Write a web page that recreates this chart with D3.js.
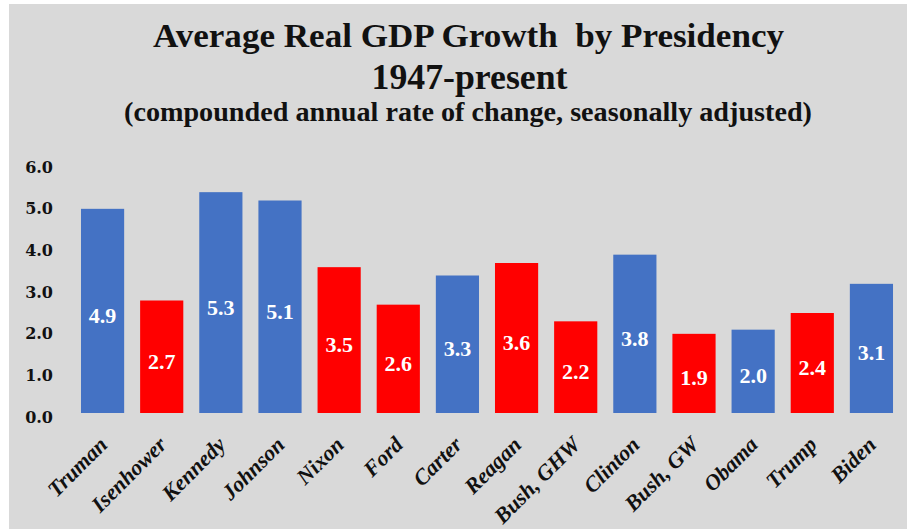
<!DOCTYPE html>
<html>
<head>
<meta charset="utf-8">
<script src="https://cdn.jsdelivr.net/npm/d3@7"></script>
<style>
  html, body { margin: 0; padding: 0; background: #ffffff; }
  svg { display: block; }
</style>
</head>
<body>
<svg id="chart" width="907" height="532"></svg>
<script>
const presidents = ["Truman","Isenhower","Kennedy","Johnson","Nixon","Ford","Carter","Reagan","Bush, GHW","Clinton","Bush, GW","Obama","Trump","Biden"];
const growth = [4.9, 2.7, 5.3, 5.1, 3.5, 2.6, 3.3, 3.6, 2.2, 3.8, 1.9, 2.0, 2.4, 3.1];
const party = ["D","R","D","D","R","R","D","R","R","D","R","D","R","D"];
const yTicks = [0, 1, 2, 3, 4, 5, 6];
const titleLines = ["Average Real GDP Growth  by Presidency", "1947-present", "(compounded annual rate of change, seasonally adjusted)"];

const partyColor = { D: "#4472C4", R: "#FF0000" };
const svg = d3.select("#chart");

svg.append("rect").attr("x", 9).attr("y", 4).attr("width", 898).attr("height", 525).attr("fill", "#d9d9d9");

// Titles
const titleSpecs = [
  { y: 47, size: 34, len: 631, cx: 468.5 },
  { y: 89, size: 36, len: 196, cx: 469.5 },
  { y: 121, size: 28, len: 688, cx: 468 }
];
titleLines.forEach((t, i) => {
  const s = titleSpecs[i];
  svg.append("text")
    .attr("x", s.cx).attr("y", s.y)
    .attr("text-anchor", "middle")
    .attr("font-family", "'Liberation Serif', 'Times New Roman', serif")
    .attr("font-weight", "bold")
    .attr("font-size", s.size)
    .attr("fill", "#111")
    .attr("textLength", s.len)
    .attr("lengthAdjust", "spacingAndGlyphs")
    .style("white-space", "pre")
    .text(t);
});

const x = d3.scaleBand().domain(presidents).range([73, 901]).paddingInner(0.27).paddingOuter(0.135);
const y = d3.scaleLinear().domain([0, 6]).range([413, 163]);

// Y axis
const yAxis = d3.axisLeft(y).tickValues(yTicks).tickFormat(d3.format(".1f")).tickSize(0).tickPadding(0);
const gy = svg.append("g").attr("transform", "translate(53,0)").call(yAxis);
gy.select(".domain").remove();
gy.selectAll("text")
  .attr("font-family", "'DejaVu Serif', serif")
  .attr("font-weight", "bold")
  .attr("font-size", 16)
  .attr("fill", "#111")
  .attr("dy", null)
  .attr("y", 9)
  .attr("text-anchor", "end");

// Bars
svg.append("g").selectAll("rect")
  .data(presidents)
  .join("rect")
  .attr("x", d => x(d))
  .attr("y", (d, i) => y(growth[i]))
  .attr("width", x.bandwidth())
  .attr("height", (d, i) => y(0) - y(growth[i]))
  .attr("fill", (d, i) => partyColor[party[i]]);

// Value labels
svg.append("g").selectAll("text")
  .data(presidents)
  .join("text")
  .attr("x", d => x(d) + x.bandwidth() / 2)
  .attr("y", (d, i) => (y(growth[i]) + y(0)) / 2 + 12)
  .attr("text-anchor", "middle")
  .attr("font-family", "'Liberation Serif', 'Times New Roman', serif")
  .attr("font-weight", "bold")
  .attr("font-size", 22)
  .attr("fill", "#ffffff")
  .text((d, i) => d3.format(".1f")(growth[i]));

// X axis labels
const xAxis = d3.axisBottom(x).tickSize(0).tickPadding(0);
const gx = svg.append("g").attr("transform", "translate(0,413)").call(xAxis);
gx.select(".domain").remove();
gx.selectAll(".tick text")
  .attr("font-family", "'Liberation Serif', 'Times New Roman', serif")
  .attr("font-weight", "bold")
  .attr("font-style", "italic")
  .attr("font-size", 22)
  .attr("fill", "#111")
  .attr("text-anchor", "end")
  .attr("dy", null)
  .attr("y", null)
  .attr("transform", "translate(6,33) rotate(-45)");
</script>
</body>
</html>
